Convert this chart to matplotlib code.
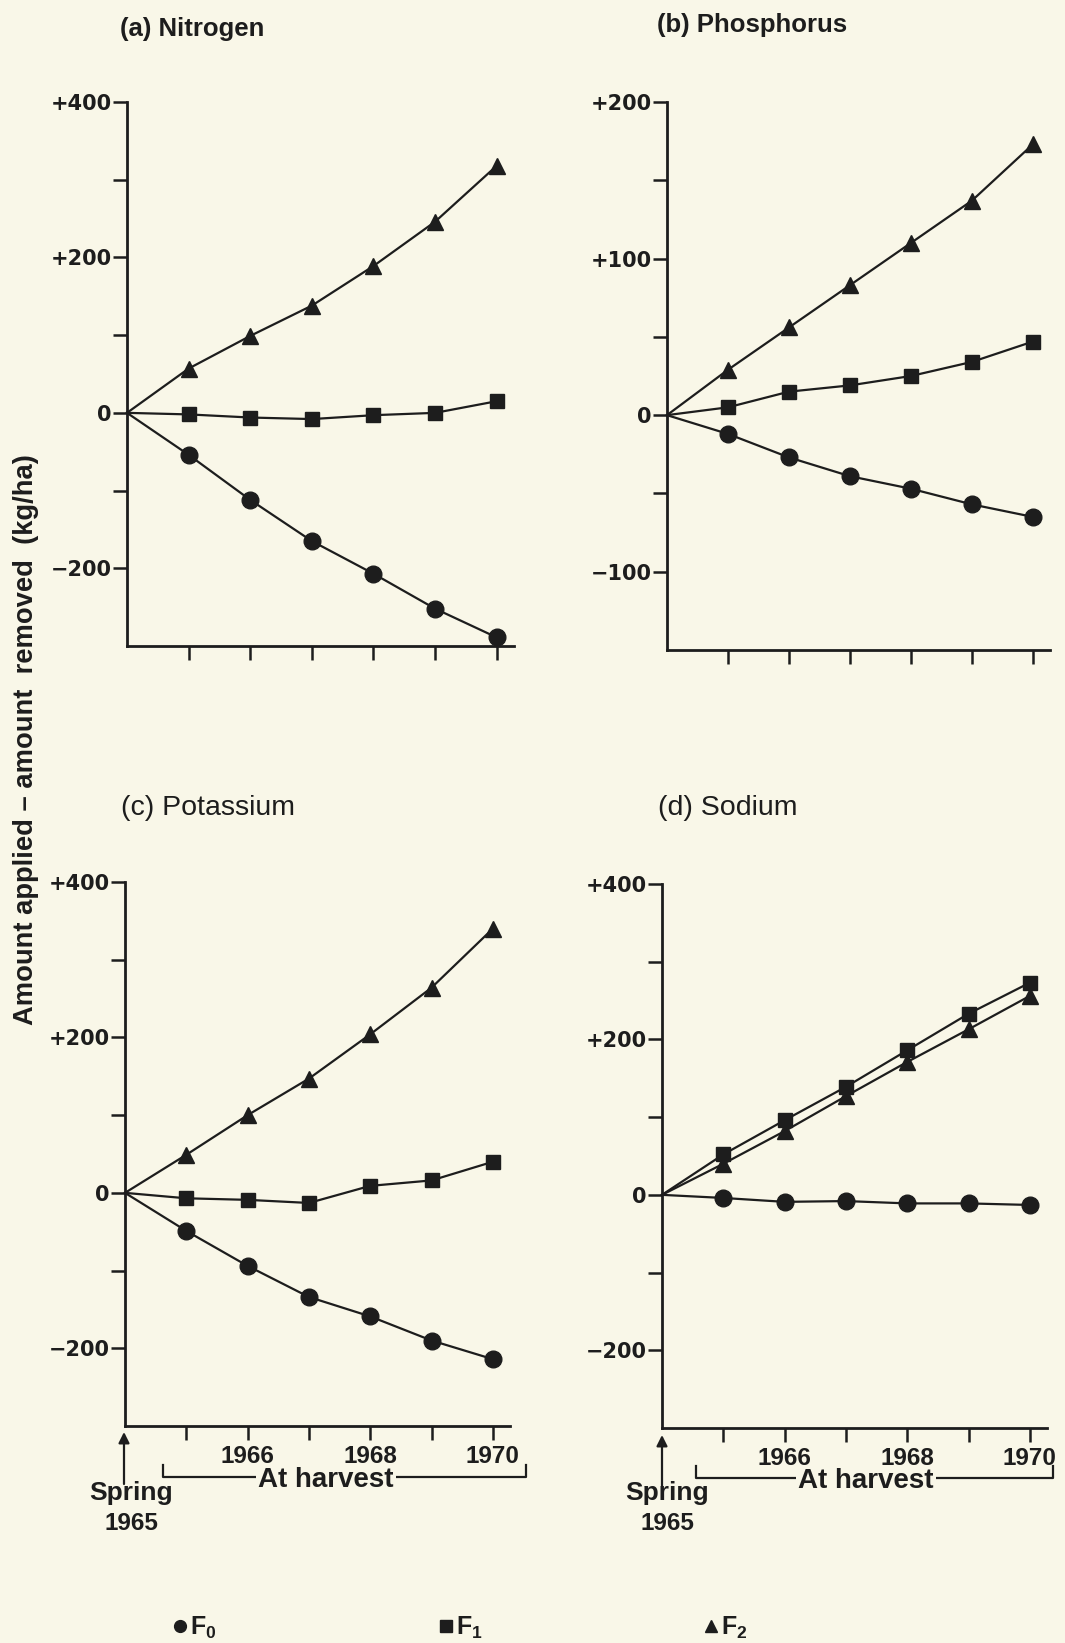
import matplotlib
matplotlib.use('Agg')
import matplotlib.pyplot as plt
from matplotlib.lines import Line2D

# ---------------- data ----------------
# x positions: 0 = spring 1965, 1..6 = harvests 1965..1970
x_points = [0, 1, 2, 3, 4, 5, 6]
year_ticks = [2, 4, 6]
year_labels = ['1966', '1968', '1970']
odd_ticks = [1, 3, 5]

nitrogen_F0 = [0, -54, -112, -165, -207, -252, -289]
nitrogen_F1 = [0, -2, -6, -8, -3, 0, 15]
nitrogen_F2 = [0, 57, 99, 138, 189, 246, 318]

phosphorus_F0 = [0, -12, -27, -39, -47, -57, -65]
phosphorus_F1 = [0, 5, 15, 19, 25, 34, 47]
phosphorus_F2 = [0, 29, 56, 83, 110, 137, 173]

potassium_F0 = [0, -49, -94, -134, -159, -190, -214]
potassium_F1 = [0, -7, -9, -13, 9, 16, 40]
potassium_F2 = [0, 49, 100, 147, 204, 264, 340]

sodium_F0 = [0, -4, -9, -8, -11, -11, -13]
sodium_F1 = [0, 52, 96, 139, 186, 233, 273]
sodium_F2 = [0, 40, 82, 127, 171, 213, 256]

big_ticks = [400, 200, 0, -200]
big_tick_labels = ['+400', '+200', '0', '\u2212200']
big_minor = [300, 100, -100]
p_ticks = [200, 100, 0, -100]
p_tick_labels = ['+200', '+100', '0', '\u2212100']
p_minor = [150, 50, -50]

panel_titles = ['(a) Nitrogen', '(b) Phosphorus', '(c) Potassium', '(d) Sodium']
series_names = ['F_0', 'F_1', 'F_2']
y_label = 'Amount applied \u2013 amount  removed  (kg/ha)'

# ---------------- style ----------------
W, H = 1065, 1643
BG = '#f9f7e8'
INK = '#1d1d1d'
plt.rcParams['font.family'] = ['Liberation Sans', 'DejaVu Sans']
plt.rcParams['mathtext.fontset'] = 'custom'
plt.rcParams['mathtext.rm'] = 'Liberation Sans:bold'
plt.rcParams['mathtext.it'] = 'Liberation Sans:bold'

fig = plt.figure(figsize=(W / 100, H / 100), dpi=100, facecolor=BG)


def fx(px):
    return px / W


def fy(py):
    return 1 - py / H


def add_ax(left, top, right, bottom):
    ax = fig.add_axes([fx(left), fy(bottom), (right - left) / W, (bottom - top) / H])
    ax.patch.set_alpha(0)
    for s in ('top', 'right'):
        ax.spines[s].set_visible(False)
    for s in ('left', 'bottom'):
        ax.spines[s].set_linewidth(2.0)
        ax.spines[s].set_color(INK)
    ax.tick_params(axis='both', which='both', direction='out', length=10,
                   width=1.8, color=INK)
    ax.tick_params(axis='y', which='both', pad=1, labelsize=15, labelcolor=INK)
    ax.tick_params(axis='x', which='both', pad=3.5, labelsize=17.5, labelcolor=INK)
    ax.set_xlim(0, 6.28)
    return ax


def draw(ax, f0, f1, f2):
    kw = dict(color=INK, lw=1.6, clip_on=False, zorder=3, markevery=slice(1, None))
    ax.plot(x_points, f0, marker='o', ms=12, **kw)
    ax.plot(x_points, f1, marker='s', ms=10, **kw)
    ax.plot(x_points, f2, marker='^', ms=12, **kw)


def yaxis(ax, lo, hi, ticks, labels, minor):
    ax.set_ylim(lo, hi)
    ax.set_yticks(ticks)
    ax.set_yticklabels(labels, family='DejaVu Sans', weight='bold')
    ax.set_yticks(minor, minor=True)


axa = add_ax(127, 102, 514, 646)
draw(axa, nitrogen_F0, nitrogen_F1, nitrogen_F2)
yaxis(axa, -300, 400, big_ticks, big_tick_labels, big_minor)
axa.set_xticks(x_points[1:])
axa.set_xticklabels([])

axb = add_ax(667, 102, 1050, 650)
draw(axb, phosphorus_F0, phosphorus_F1, phosphorus_F2)
yaxis(axb, -150, 200, p_ticks, p_tick_labels, p_minor)
axb.set_xticks(x_points[1:])
axb.set_xticklabels([])

axc = add_ax(125, 882, 510, 1426)
draw(axc, potassium_F0, potassium_F1, potassium_F2)
yaxis(axc, -300, 400, big_ticks, big_tick_labels, big_minor)

axd = add_ax(662, 884, 1047, 1428)
draw(axd, sodium_F0, sodium_F1, sodium_F2)
yaxis(axd, -300, 400, big_ticks, big_tick_labels, big_minor)

for ax in (axc, axd):
    ax.set_xticks(year_ticks)
    ax.set_xticklabels(year_labels, weight='bold')
    ax.set_xticks(odd_ticks, minor=True)

# panel titles
fig.text(fx(120), fy(36), panel_titles[0], fontsize=18.5, weight='bold', color=INK, va='baseline')
fig.text(fx(657), fy(32), panel_titles[1], fontsize=18.5, weight='bold', color=INK, va='baseline')
fig.text(fx(121), fy(815), panel_titles[2], fontsize=20.5, color=INK, va='baseline')
fig.text(fx(658), fy(815), panel_titles[3], fontsize=20.5, color=INK, va='baseline')

# y label
fig.text(fx(26), fy(740), y_label, rotation=90, fontsize=19.7, weight='bold',
         color=INK, ha='center', va='center')

# bottom annotations (Spring arrow + At harvest bracket)
for ax_x, tip, tail, sx, bl, br, by, hx in [(124, 1432, 1484, 131, 163, 526, 1477, 326),
                                            (662, 1435, 1486, 667, 696, 1053, 1478, 866)]:
    axc.annotate('', xy=(fx(ax_x), fy(tip)), xytext=(fx(ax_x), fy(tail)),
                 xycoords='figure fraction', textcoords='figure fraction',
                 arrowprops=dict(arrowstyle='-|>', lw=1.6, color=INK,
                                 mutation_scale=16, shrinkA=0, shrinkB=0),
                 annotation_clip=False)
    fig.text(fx(sx), fy(1500), 'Spring', fontsize=19, weight='bold', color=INK,
             ha='center', va='baseline')
    fig.text(fx(sx), fy(1530), '1965', fontsize=17.5, weight='bold', color=INK,
             ha='center', va='baseline')
    fig.add_artist(Line2D([fx(bl), fx(bl), fx(br), fx(br)],
                          [fy(by - 12), fy(by), fy(by), fy(by - 12)],
                          transform=fig.transFigure, color=INK, lw=1.6))
    fig.text(fx(hx), fy(by + 10), 'At harvest', fontsize=20, weight='bold', color=INK,
             ha='center', va='baseline',
             bbox=dict(facecolor=BG, edgecolor='none', pad=1.5))

# legend
handles = [Line2D([], [], ls='none', marker=m, ms=ms, color=INK)
           for m, ms in (('o', 8.5), ('s', 8), ('^', 8.5))]
fig.legend(handles, [r'$\mathregular{%s}$' % s for s in series_names],
           ncol=3, frameon=False, loc='center left',
           bbox_to_anchor=(fx(174), fy(1628)), borderaxespad=0, borderpad=0,
           handlelength=0.5, handletextpad=0.15, columnspacing=8.9,
           prop={'family': 'Liberation Sans', 'size': 18, 'weight': 'bold'},
           labelcolor=INK)

fig.savefig('out.png', dpi=100, facecolor=BG)
